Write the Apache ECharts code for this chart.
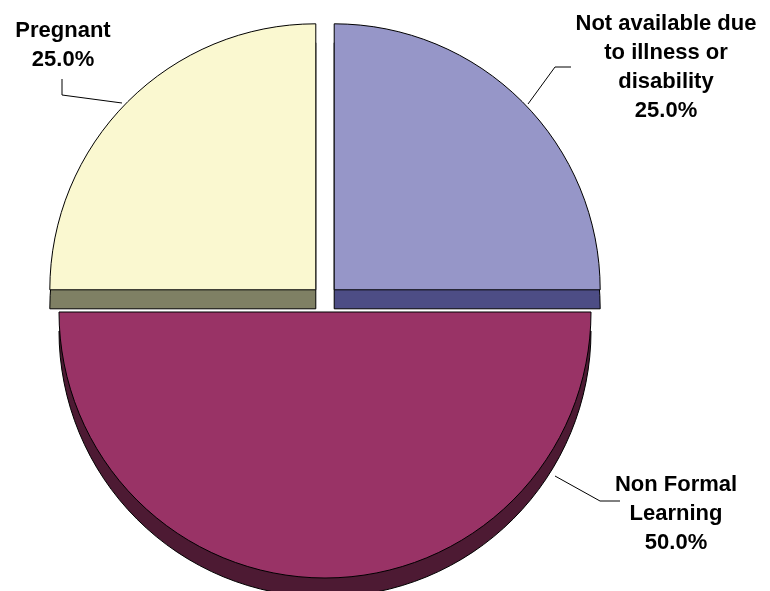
<!DOCTYPE html>
<html>
<head>
<meta charset="utf-8">
<script src="https://cdn.jsdelivr.net/npm/echarts@6/dist/echarts.min.js"></script>
<style>
html, body { margin: 0; background: #fff; }
#chart { width: 770px; height: 591px; }
</style>
</head>
<body>
<div id="chart"></div>
<script>
// slices, clockwise from 12 o'clock
var categories = ['Not available due\nto illness or\ndisability', 'Non Formal\nLearning', 'Pregnant'];
var values = [25, 50, 25];
var faceColors = ['#9696c8', '#993366', '#faf8d0'];
var sideColors = ['#4d4d85', '#4d1a33', '#7f8064'];

// where each label sits and how its leader line runs
var labelPos = [
  { x: 666, y: 67, line: [[528, 104], [555, 67], [571, 67]] },
  { x: 676, y: 514, line: [[555, 476], [600, 501], [620, 501]] },
  { x: 63, y: 45, line: [[122, 103], [62, 95], [62, 79]] }
]

var cx = 325, cy = 299, r = 266, depth = 19

var total = values.reduce(function (a, b) { return a + b }, 0)

function makeData(colors) {
  return categories.map(function (name, i) {
    return {
      name: name,
      value: values[i],
      selected: true,
      itemStyle: { color: colors[i] }
    }
  })
}

var graphics = []
categories.forEach(function (name, i) {
  var p = labelPos[i]
  graphics.push({
    type: 'polyline',
    z: 10,
    shape: { points: p.line },
    style: { stroke: '#000', lineWidth: 1, fill: null }
  })
  graphics.push({
    type: 'text',
    z: 10,
    x: p.x,
    y: p.y,
    style: {
      text: name + '\n' + (values[i] / total * 100).toFixed(1) + '%',
      fontFamily: 'Liberation Sans, Arial, sans-serif',
      fontWeight: 'bold',
      fontSize: 22,
      lineHeight: 29,
      fill: '#000',
      align: 'center',
      verticalAlign: 'middle'
    }
  })
})

var pieBase = {
  type: 'pie',
  radius: r,
  startAngle: 90,
  clockwise: true,
  selectedMode: 'multiple',
  selectedOffset: 13,
  avoidLabelOverlap: false,
  itemStyle: { borderColor: '#000', borderWidth: 1 },
  label: { show: false },
  labelLine: { show: false },
  emphasis: { disabled: true }
}

var chart = echarts.init(document.getElementById('chart'))
chart.setOption({
  animation: false,
  graphic: graphics,
  series: [
    // side wall, a darker copy pushed down
    Object.assign({}, pieBase, {
      z: 1,
      silent: true,
      center: [cx, cy + depth],
      data: makeData(sideColors)
    }),
    Object.assign({}, pieBase, {
      z: 2,
      center: [cx, cy],
      data: makeData(faceColors)
    })
  ]
})
</script>
</body>
</html>
